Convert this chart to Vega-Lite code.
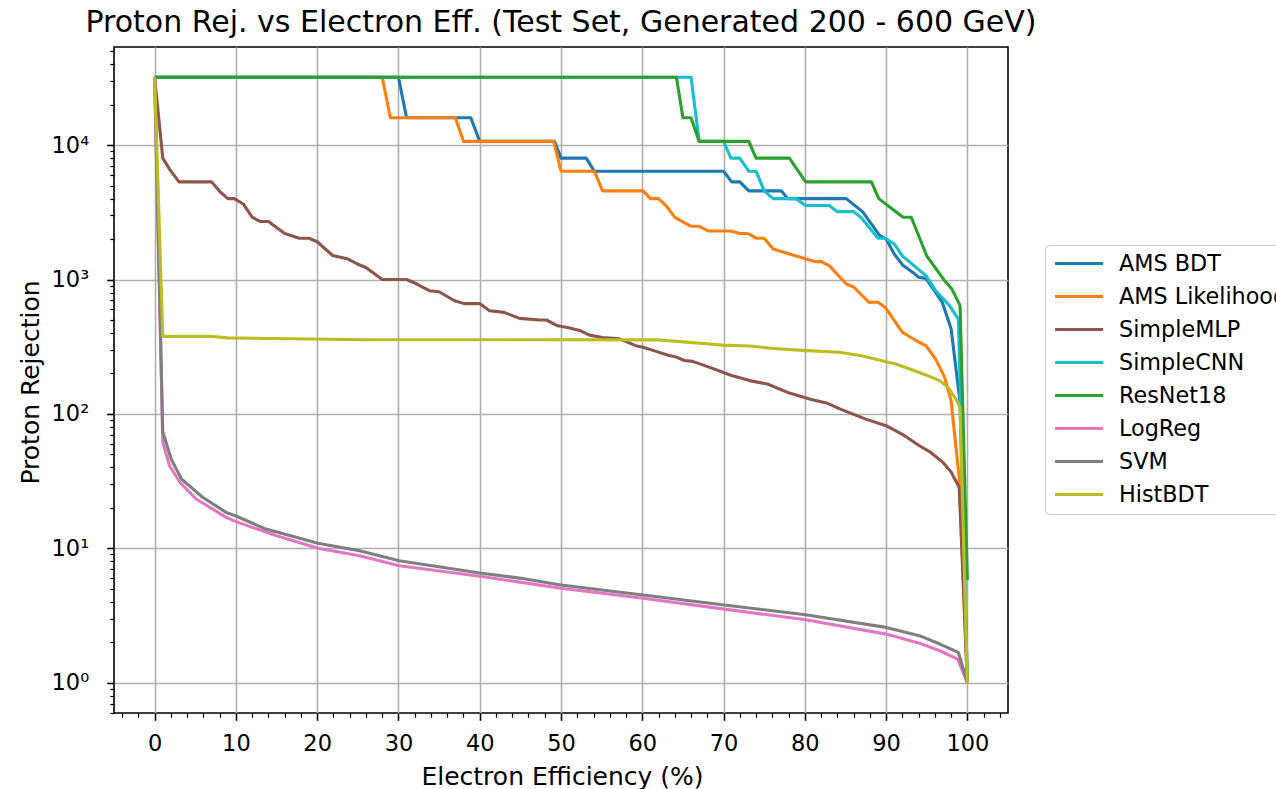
{
  "$schema": "https://vega.github.io/schema/vega-lite/v6.json",
  "width": 894,
  "height": 666,
  "autosize": {"type": "none"},
  "padding": {"left": 114, "top": 47, "right": 268, "bottom": 76},
  "background": "white",
  "config": {
    "font": "DejaVu Sans",
    "view": {"stroke": "black", "strokeWidth": 1.6},
    "axis": {"labelFont": "DejaVu Sans", "titleFont": "DejaVu Sans", "labelColor": "black", "titleColor": "black", "titleFontWeight": "normal"}
  },
  "title": {"text": "Proton Rej. vs Electron Eff. (Test Set, Generated 200 - 600 GeV)", "fontSize": 30, "font": "DejaVu Sans", "fontWeight": "normal", "anchor": "middle", "baseline": "alphabetic", "offset": 15, "dy": 30, "color": "black"},
  "data": {"values": [
    {"m":"AMS BDT","x":0,"y":32000},{"m":"AMS BDT","x":30,"y":32000},{"m":"AMS BDT","x":31,"y":16000},{"m":"AMS BDT","x":38.9,"y":16000},{"m":"AMS BDT","x":40,"y":10667},{"m":"AMS BDT","x":49.2,"y":10667},{"m":"AMS BDT","x":50,"y":8000},{"m":"AMS BDT","x":53.1,"y":8000},{"m":"AMS BDT","x":54.1,"y":6400},{"m":"AMS BDT","x":70,"y":6400},{"m":"AMS BDT","x":71,"y":5333},{"m":"AMS BDT","x":72,"y":5333},{"m":"AMS BDT","x":73.1,"y":4571},{"m":"AMS BDT","x":77.1,"y":4571},{"m":"AMS BDT","x":77.9,"y":4000},{"m":"AMS BDT","x":85.1,"y":4000},{"m":"AMS BDT","x":87.1,"y":3200},{"m":"AMS BDT","x":89.2,"y":2130},{"m":"AMS BDT","x":90,"y":2000},{"m":"AMS BDT","x":91,"y":1550},{"m":"AMS BDT","x":92.1,"y":1270},{"m":"AMS BDT","x":93.3,"y":1130},{"m":"AMS BDT","x":94,"y":1040},{"m":"AMS BDT","x":94.9,"y":1020},{"m":"AMS BDT","x":96.1,"y":800},{"m":"AMS BDT","x":96.9,"y":680},{"m":"AMS BDT","x":98,"y":430},{"m":"AMS BDT","x":98.8,"y":172},{"m":"AMS BDT","x":99.1,"y":122},{"m":"AMS BDT","x":100,"y":1},
    {"m":"AMS Likelihood","x":0,"y":32000},{"m":"AMS Likelihood","x":28,"y":32000},{"m":"AMS Likelihood","x":29,"y":16000},{"m":"AMS Likelihood","x":37,"y":16000},{"m":"AMS Likelihood","x":38,"y":10667},{"m":"AMS Likelihood","x":49.1,"y":10667},{"m":"AMS Likelihood","x":50,"y":6400},{"m":"AMS Likelihood","x":54.1,"y":6400},{"m":"AMS Likelihood","x":55.1,"y":4571},{"m":"AMS Likelihood","x":60.1,"y":4571},{"m":"AMS Likelihood","x":61,"y":4000},{"m":"AMS Likelihood","x":62,"y":4000},{"m":"AMS Likelihood","x":63,"y":3500},{"m":"AMS Likelihood","x":64,"y":2900},{"m":"AMS Likelihood","x":66,"y":2490},{"m":"AMS Likelihood","x":67,"y":2490},{"m":"AMS Likelihood","x":68.1,"y":2300},{"m":"AMS Likelihood","x":70.9,"y":2300},{"m":"AMS Likelihood","x":72,"y":2200},{"m":"AMS Likelihood","x":73,"y":2200},{"m":"AMS Likelihood","x":74,"y":2030},{"m":"AMS Likelihood","x":75,"y":2030},{"m":"AMS Likelihood","x":76.1,"y":1690},{"m":"AMS Likelihood","x":78.1,"y":1550},{"m":"AMS Likelihood","x":80.2,"y":1420},{"m":"AMS Likelihood","x":81.2,"y":1360},{"m":"AMS Likelihood","x":82,"y":1360},{"m":"AMS Likelihood","x":83,"y":1270},{"m":"AMS Likelihood","x":85.1,"y":926},{"m":"AMS Likelihood","x":86,"y":880},{"m":"AMS Likelihood","x":87.9,"y":677},{"m":"AMS Likelihood","x":89,"y":677},{"m":"AMS Likelihood","x":89.9,"y":620},{"m":"AMS Likelihood","x":92,"y":405},{"m":"AMS Likelihood","x":93,"y":372},{"m":"AMS Likelihood","x":94.1,"y":340},{"m":"AMS Likelihood","x":94.9,"y":322},{"m":"AMS Likelihood","x":96.1,"y":256},{"m":"AMS Likelihood","x":97.2,"y":187},{"m":"AMS Likelihood","x":98,"y":125},{"m":"AMS Likelihood","x":99,"y":33},{"m":"AMS Likelihood","x":100,"y":1},
    {"m":"SimpleMLP","x":0,"y":32000},{"m":"SimpleMLP","x":1,"y":8000},{"m":"SimpleMLP","x":1.85,"y":6600},{"m":"SimpleMLP","x":3,"y":5333},{"m":"SimpleMLP","x":7,"y":5333},{"m":"SimpleMLP","x":8,"y":4530},{"m":"SimpleMLP","x":9,"y":4000},{"m":"SimpleMLP","x":9.8,"y":4000},{"m":"SimpleMLP","x":10.9,"y":3650},{"m":"SimpleMLP","x":12,"y":2909},{"m":"SimpleMLP","x":13,"y":2700},{"m":"SimpleMLP","x":14,"y":2700},{"m":"SimpleMLP","x":15,"y":2440},{"m":"SimpleMLP","x":16,"y":2200},{"m":"SimpleMLP","x":17.8,"y":2030},{"m":"SimpleMLP","x":19,"y":2030},{"m":"SimpleMLP","x":20,"y":1910},{"m":"SimpleMLP","x":21.9,"y":1510},{"m":"SimpleMLP","x":23.8,"y":1420},{"m":"SimpleMLP","x":25,"y":1300},{"m":"SimpleMLP","x":26,"y":1230},{"m":"SimpleMLP","x":28,"y":1000},{"m":"SimpleMLP","x":31,"y":1000},{"m":"SimpleMLP","x":32.2,"y":930},{"m":"SimpleMLP","x":33.8,"y":826},{"m":"SimpleMLP","x":35,"y":811},{"m":"SimpleMLP","x":36.9,"y":695},{"m":"SimpleMLP","x":38.1,"y":662},{"m":"SimpleMLP","x":40,"y":662},{"m":"SimpleMLP","x":41.2,"y":586},{"m":"SimpleMLP","x":43,"y":570},{"m":"SimpleMLP","x":44.9,"y":514},{"m":"SimpleMLP","x":47.4,"y":500},{"m":"SimpleMLP","x":48.2,"y":500},{"m":"SimpleMLP","x":49.6,"y":453},{"m":"SimpleMLP","x":50.8,"y":440},{"m":"SimpleMLP","x":52.3,"y":418},{"m":"SimpleMLP","x":53.5,"y":386},{"m":"SimpleMLP","x":55.1,"y":370},{"m":"SimpleMLP","x":57.2,"y":362},{"m":"SimpleMLP","x":59.2,"y":322},{"m":"SimpleMLP","x":60.1,"y":313},{"m":"SimpleMLP","x":61.7,"y":292},{"m":"SimpleMLP","x":63.3,"y":272},{"m":"SimpleMLP","x":64.2,"y":265},{"m":"SimpleMLP","x":65.2,"y":250},{"m":"SimpleMLP","x":66.2,"y":246},{"m":"SimpleMLP","x":68.3,"y":222},{"m":"SimpleMLP","x":69.9,"y":204},{"m":"SimpleMLP","x":71.1,"y":192},{"m":"SimpleMLP","x":73.2,"y":177},{"m":"SimpleMLP","x":75.4,"y":167},{"m":"SimpleMLP","x":78.1,"y":143},{"m":"SimpleMLP","x":80.8,"y":128},{"m":"SimpleMLP","x":82.8,"y":120},{"m":"SimpleMLP","x":84.3,"y":109},{"m":"SimpleMLP","x":87.5,"y":91.5},{"m":"SimpleMLP","x":90,"y":81.7},{"m":"SimpleMLP","x":92,"y":70.6},{"m":"SimpleMLP","x":94.1,"y":58},{"m":"SimpleMLP","x":95.5,"y":51.7},{"m":"SimpleMLP","x":97,"y":43.6},{"m":"SimpleMLP","x":98,"y":37},{"m":"SimpleMLP","x":99,"y":28.4},{"m":"SimpleMLP","x":100,"y":1},
    {"m":"SimpleCNN","x":0,"y":32000},{"m":"SimpleCNN","x":66,"y":32000},{"m":"SimpleCNN","x":67,"y":10667},{"m":"SimpleCNN","x":70,"y":10667},{"m":"SimpleCNN","x":70.9,"y":8000},{"m":"SimpleCNN","x":72,"y":8000},{"m":"SimpleCNN","x":73.1,"y":6400},{"m":"SimpleCNN","x":74,"y":6400},{"m":"SimpleCNN","x":75,"y":4571},{"m":"SimpleCNN","x":76.1,"y":4000},{"m":"SimpleCNN","x":78.9,"y":4000},{"m":"SimpleCNN","x":80.1,"y":3556},{"m":"SimpleCNN","x":83,"y":3556},{"m":"SimpleCNN","x":84,"y":3200},{"m":"SimpleCNN","x":86,"y":3200},{"m":"SimpleCNN","x":86.9,"y":2909},{"m":"SimpleCNN","x":89,"y":2030},{"m":"SimpleCNN","x":89.9,"y":2030},{"m":"SimpleCNN","x":91,"y":1840},{"m":"SimpleCNN","x":92,"y":1500},{"m":"SimpleCNN","x":94.9,"y":1070},{"m":"SimpleCNN","x":96.1,"y":826},{"m":"SimpleCNN","x":97.8,"y":640},{"m":"SimpleCNN","x":98.9,"y":508},{"m":"SimpleCNN","x":100,"y":1},
    {"m":"ResNet18","x":0,"y":32000},{"m":"ResNet18","x":64.2,"y":32000},{"m":"ResNet18","x":65,"y":16000},{"m":"ResNet18","x":66,"y":16000},{"m":"ResNet18","x":67,"y":10667},{"m":"ResNet18","x":73.1,"y":10667},{"m":"ResNet18","x":74,"y":8000},{"m":"ResNet18","x":78.1,"y":8000},{"m":"ResNet18","x":80.1,"y":5333},{"m":"ResNet18","x":88.2,"y":5333},{"m":"ResNet18","x":89.1,"y":4000},{"m":"ResNet18","x":91.2,"y":3200},{"m":"ResNet18","x":92.1,"y":2909},{"m":"ResNet18","x":93.1,"y":2909},{"m":"ResNet18","x":95,"y":1500},{"m":"ResNet18","x":97.2,"y":980},{"m":"ResNet18","x":98.1,"y":850},{"m":"ResNet18","x":99.1,"y":640},{"m":"ResNet18","x":100,"y":5.8},
    {"m":"LogReg","x":0,"y":32000},{"m":"LogReg","x":1,"y":61.5},{"m":"LogReg","x":1.85,"y":41},{"m":"LogReg","x":3.1,"y":31},{"m":"LogReg","x":5.1,"y":23.3},{"m":"LogReg","x":8.8,"y":17},{"m":"LogReg","x":10,"y":15.8},{"m":"LogReg","x":15,"y":12.4},{"m":"LogReg","x":20.1,"y":10},{"m":"LogReg","x":25.2,"y":8.8},{"m":"LogReg","x":30.1,"y":7.43},{"m":"LogReg","x":40,"y":6.2},{"m":"LogReg","x":45.1,"y":5.58},{"m":"LogReg","x":50,"y":5.04},{"m":"LogReg","x":60.1,"y":4.25},{"m":"LogReg","x":70.1,"y":3.53},{"m":"LogReg","x":80.1,"y":2.94},{"m":"LogReg","x":90,"y":2.3},{"m":"LogReg","x":94.1,"y":1.97},{"m":"LogReg","x":96.6,"y":1.73},{"m":"LogReg","x":98.8,"y":1.5},{"m":"LogReg","x":100,"y":1},
    {"m":"SVM","x":0,"y":32000},{"m":"SVM","x":1,"y":73.8},{"m":"SVM","x":2.05,"y":46},{"m":"SVM","x":3.3,"y":32.8},{"m":"SVM","x":5.9,"y":24},{"m":"SVM","x":8.8,"y":18.5},{"m":"SVM","x":10,"y":17.4},{"m":"SVM","x":13.7,"y":13.9},{"m":"SVM","x":20.1,"y":10.9},{"m":"SVM","x":25.2,"y":9.6},{"m":"SVM","x":30.1,"y":8.09},{"m":"SVM","x":40,"y":6.55},{"m":"SVM","x":45.1,"y":5.98},{"m":"SVM","x":50,"y":5.33},{"m":"SVM","x":60.1,"y":4.5},{"m":"SVM","x":70.1,"y":3.79},{"m":"SVM","x":80.1,"y":3.2},{"m":"SVM","x":90,"y":2.58},{"m":"SVM","x":94.1,"y":2.24},{"m":"SVM","x":96.6,"y":1.94},{"m":"SVM","x":98.9,"y":1.68},{"m":"SVM","x":100,"y":1},
    {"m":"HistBDT","x":0,"y":32000},{"m":"HistBDT","x":1,"y":378},{"m":"HistBDT","x":6.8,"y":378},{"m":"HistBDT","x":9,"y":368},{"m":"HistBDT","x":26,"y":356},{"m":"HistBDT","x":61.7,"y":356},{"m":"HistBDT","x":65.8,"y":341},{"m":"HistBDT","x":67.9,"y":333},{"m":"HistBDT","x":69.9,"y":325},{"m":"HistBDT","x":73.2,"y":320},{"m":"HistBDT","x":76.1,"y":307},{"m":"HistBDT","x":80.2,"y":296},{"m":"HistBDT","x":84.3,"y":288},{"m":"HistBDT","x":87.1,"y":270},{"m":"HistBDT","x":90,"y":245},{"m":"HistBDT","x":91.2,"y":235},{"m":"HistBDT","x":92.9,"y":216},{"m":"HistBDT","x":94.9,"y":195},{"m":"HistBDT","x":96.6,"y":177},{"m":"HistBDT","x":97.6,"y":158},{"m":"HistBDT","x":98.6,"y":129},{"m":"HistBDT","x":99.1,"y":112},{"m":"HistBDT","x":100,"y":1}
  ]},
  "layer": [
    {
      "mark": {"type": "point", "opacity": 0, "size": 0},
      "encoding": {
        "x": {"field": "x", "type": "quantitative", "scale": {"domain": [-5, 105], "nice": false, "zero": false},
          "axis": {"orient": "bottom", "values": [-4,-2,2,4,6,8,12,14,16,18,22,24,26,28,32,34,36,38,42,44,46,48,52,54,56,58,62,64,66,68,72,74,76,78,82,84,86,88,92,94,96,98,102,104], "grid": false, "domain": false, "labels": false, "tickSize": 4.2, "tickWidth": 1.2, "tickColor": "black", "title": null}},
        "y": {"field": "y", "type": "quantitative", "scale": {"type": "log", "domain": [0.5953, 53740], "nice": false},
          "axis": {"orient": "left", "values": [0.6,0.7,0.8,0.9,2,3,4,5,6,7,8,9,20,30,40,50,60,70,80,90,200,300,400,500,600,700,800,900,2000,3000,4000,5000,6000,7000,8000,9000,20000,30000,40000,50000], "grid": false, "domain": false, "labels": false, "tickSize": 4.2, "tickWidth": 1.2, "tickColor": "black", "title": null}}
      }
    },
    {
      "mark": {"type": "line", "strokeWidth": 3.1, "strokeJoin": "round", "clip": true},
      "encoding": {
        "x": {"field": "x", "type": "quantitative", "scale": {"domain": [-5, 105], "nice": false, "zero": false},
          "axis": {"orient": "bottom", "values": [0,10,20,30,40,50,60,70,80,90,100], "format": "d", "grid": true, "gridColor": "#b0b0b0", "gridWidth": 1.6, "domain": false, "tickSize": 7.3, "tickWidth": 1.6, "tickColor": "black", "labelFontSize": 22.5, "labelPadding": 12, "labelFlush": false, "title": "Electron Efficiency (%)", "titleFontSize": 25, "titleBaseline": "alphabetic", "titleY": 71, "titleX": 448}},
        "y": {"field": "y", "type": "quantitative", "scale": {"type": "log", "domain": [0.5953, 53740], "nice": false},
          "axis": {"orient": "left", "values": [1,10,100,1000,10000], "labelExpr": "datum.value < 5 ? '10⁰' : datum.value < 50 ? '10¹' : datum.value < 500 ? '10²' : datum.value < 5000 ? '10³' : '10⁴'", "grid": true, "gridColor": "#b0b0b0", "gridWidth": 1.6, "domain": false, "tickSize": 7.3, "tickWidth": 1.6, "tickColor": "black", "labelFontSize": 22.5, "labelPadding": 18, "labelFlush": false, "title": "Proton Rejection", "titleFontSize": 25, "titleBaseline": "alphabetic", "titleAngle": -90, "titleX": -76, "titleY": 335}},
        "color": {"field": "m", "type": "nominal", "sort": null,
          "scale": {"domain": ["AMS BDT","AMS Likelihood","SimpleMLP","SimpleCNN","ResNet18","LogReg","SVM","HistBDT"], "range": ["#1f77b4","#ff7f0e","#8c564b","#17becf","#2ca02c","#e377c2","#7f7f7f","#bcbd22"]},
          "legend": {"orient": "none", "legendX": 931, "legendY": 198, "title": null, "symbolType": "stroke", "symbolSize": 2304, "symbolStrokeWidth": 3.1, "clipHeight": 21, "rowPadding": 10, "labelFontSize": 22.3, "labelFont": "DejaVu Sans", "labelColor": "black", "labelOffset": 14, "labelLimit": 400, "padding": 8, "strokeColor": "#cccccc", "cornerRadius": 5, "fillColor": "white"}}
      }
    }
  ],
  "resolve": {"axis": {"x": "independent", "y": "independent"}}
}
